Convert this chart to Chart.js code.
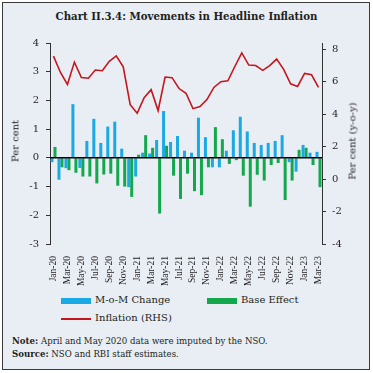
<!DOCTYPE html>
<html>
<head>
<meta charset="utf-8">
<script src="https://cdn.jsdelivr.net/npm/chart.js@4"></script>
<style>
  html, body { margin:0; padding:0; width:373px; height:373px; overflow:hidden; background:#fff; }
  #frame { position:absolute; left:2px; top:2px; width:366px; height:366px; border:1px solid #3a3a3a; background:#e9eef5; }
  .t { position:absolute; font-family:"DejaVu Serif", serif; color:#231f20; white-space:nowrap; }
  #title { left:0; width:373px; top:10px; text-align:center; font-weight:bold; font-size:10.2px; }
  #cv { position:absolute; left:0; top:30px; }
  .ytitle { position:absolute; font-family:"DejaVu Serif", serif; font-size:10px; color:#231f20; white-space:nowrap; transform:translate(-50%,-50%) rotate(-90deg); }
  .lg { position:absolute; font-family:"DejaVu Serif", serif; font-size:10px; color:#231f20; white-space:nowrap; }
  .note { position:absolute; left:12px; font-family:"DejaVu Serif", serif; font-size:8.6px; color:#231f20; white-space:nowrap; }
</style>
</head>
<body>
<div id="frame"></div>
<div id="title" class="t">Chart II.3.4: Movements in Headline Inflation</div>
<canvas id="cv" width="373" height="262" style="width:373px;height:262px"></canvas>
<div class="ytitle" style="left:15px; top:141px;">Per cent</div>
<div class="ytitle" style="left:352px; top:141px;">Per cent (y-o-y)</div>

<div style="position:absolute; left:61px; top:298px; width:30px; height:6px; background:#19a9e5;"></div>
<div class="lg" style="left:95px; top:294px;">M-o-M Change</div>
<div style="position:absolute; left:207px; top:298px; width:30px; height:6px; background:#12a84b;"></div>
<div class="lg" style="left:241px; top:294px;">Base Effect</div>
<div style="position:absolute; left:61px; top:318px; width:30px; height:2px; background:#c4161c;"></div>
<div class="lg" style="left:95px; top:312px;">Inflation (RHS)</div>

<div class="note" style="top:336px;"><b>Note:</b> April and May 2020 data were imputed by the NSO.</div>
<div class="note" style="top:349px;"><b>Source:</b> NSO and RBI staff estimates.</div>

<script>
const months = ["Jan-20","Feb-20","Mar-20","Apr-20","May-20","Jun-20","Jul-20","Aug-20","Sep-20","Oct-20","Nov-20","Dec-20",
  "Jan-21","Feb-21","Mar-21","Apr-21","May-21","Jun-21","Jul-21","Aug-21","Sep-21","Oct-21","Nov-21","Dec-21",
  "Jan-22","Feb-22","Mar-22","Apr-22","May-22","Jun-22","Jul-22","Aug-22","Sep-22","Oct-22","Nov-22","Dec-22",
  "Jan-23","Feb-23","Mar-23"];
const momChange = [-0.15,-0.76,-0.36,1.87,-0.35,0.59,1.36,0.52,1.09,1.26,0.32,-1.02,
  -0.65,0.18,0.15,0.62,1.63,0.55,0.76,0.25,0.18,1.40,0.72,-0.33,
  -0.33,0.25,0.96,1.43,0.92,0.52,0.45,0.52,0.59,0.79,-0.15,-0.48,
  0.45,0.18,0.21];
const baseEffect = [0.38,-0.33,-0.43,-0.52,-0.65,-0.65,-0.89,-0.58,-0.55,-0.97,-1.00,-1.36,
  0.11,0.79,0.35,-1.94,0.42,-0.62,-1.43,-0.55,-1.16,-1.30,-0.33,1.07,
  0.65,-0.21,-0.08,-0.62,-1.70,-0.59,-0.79,-0.25,-0.18,-1.47,-0.79,0.28,
  0.35,-0.25,-1.02];
const inflation = [7.59,6.58,5.84,7.22,6.27,6.23,6.73,6.69,7.27,7.61,6.93,4.59,
  4.06,5.03,5.52,4.23,6.30,6.26,5.59,5.30,4.35,4.48,4.91,5.66,
  6.01,6.07,6.95,7.79,7.04,7.01,6.71,7.00,7.41,6.77,5.88,5.72,
  6.52,6.44,5.66];
const leftTicks = [-3,-2,-1,0,1,2,3,4];
const rightTicks = [-4,-2,0,2,4,6,8];

const FONT = "DejaVu Serif";
const zeroLine = {
  id: 'zeroLine',
  afterDatasetsDraw(chart) {
    const y = chart.scales.y.getPixelForValue(0);
    const a = chart.chartArea;
    const c = chart.ctx;
    c.save();
    c.strokeStyle = '#000';
    c.lineWidth = 1.5;
    c.beginPath();
    c.moveTo(a.left, y);
    c.lineTo(a.right, y);
    c.stroke();
    c.restore();
  }
};

new Chart(document.getElementById('cv'), {
  data: {
    labels: months,
    datasets: [
      { type:'line', label:'Inflation (RHS)', data: inflation, yAxisID:'y1', borderColor:'#c4161c', borderWidth:1.6, pointRadius:0, tension:0, order:0 },
      { type:'bar', label:'M-o-M Change', data: momChange, yAxisID:'y', backgroundColor:'#19a9e5', categoryPercentage:0.86, barPercentage:1.0, order:1 },
      { type:'bar', label:'Base Effect', data: baseEffect, yAxisID:'y', backgroundColor:'#12a84b', categoryPercentage:0.86, barPercentage:1.0, order:1 }
    ]
  },
  options: {
    responsive:false,
    animation:false,
    layout:{ padding:{ top:5, left:0, right:0, bottom:0 } },
    plugins:{ legend:{ display:false }, tooltip:{ enabled:false } },
    scales:{
      x:{
        grid:{ display:false },
        border:{ display:false },
        ticks:{ autoSkip:false, minRotation:90, maxRotation:90, padding:4, color:'#231f20',
          font:{ family:"Liberation Serif", size:9.5 },
          callback:(v,i)=> i%2===0 ? months[i] : '' },
        afterFit:(s)=>{ s.height = 48; }
      },
      y:{
        position:'left', min:-3, max:4,
        afterBuildTicks:(s)=>{ s.ticks = leftTicks.map(v=>({value:v})); },
        grid:{ display:true, drawOnChartArea:false, drawTicks:true, tickLength:4, color:'#333', tickColor:'#333' },
        border:{ display:true, color:'#333', width:1 },
        ticks:{ padding:7, color:'#231f20', font:{ family:FONT, size:10 } },
        afterFit:(s)=>{ s.width = 50; }
      },
      y1:{
        position:'right', min:-4, max:8.4,
        afterBuildTicks:(s)=>{ s.ticks = rightTicks.map(v=>({value:v})); },
        grid:{ display:true, drawOnChartArea:false, drawTicks:true, tickLength:4, color:'#333', tickColor:'#333' },
        border:{ display:true, color:'#333', width:1 },
        ticks:{ padding:6, color:'#231f20', font:{ family:FONT, size:10 } },
        afterFit:(s)=>{ s.width = 51; }
      }
    }
  },
  plugins:[zeroLine]
});
</script>
</body>
</html>
